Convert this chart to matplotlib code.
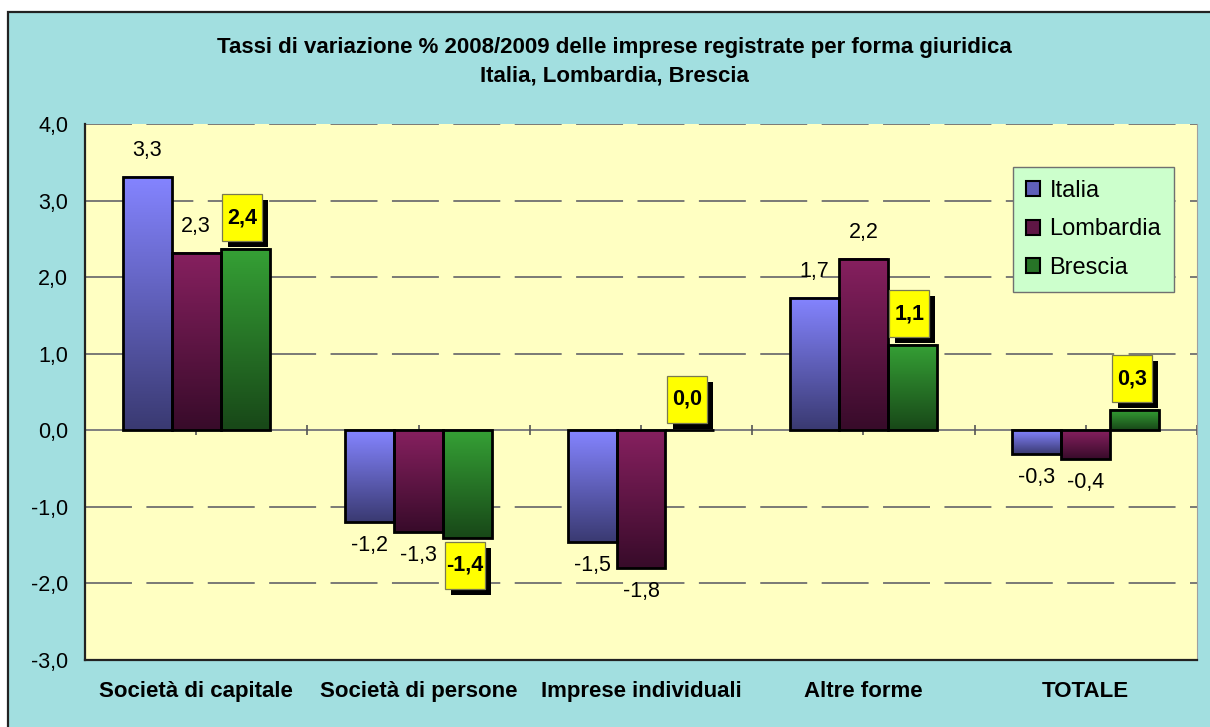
import matplotlib.pyplot as plt
import matplotlib.patches as mpatches
import numpy as np
from matplotlib.colors import to_rgb

plt.rcParams['font.family'] = ['Liberation Sans', 'DejaVu Sans']

# data
categorie = ['Società di capitale', 'Società di persone', 'Imprese individuali',
             'Altre forme', 'TOTALE']
italia = [3.31, -1.20, -1.46, 1.73, -0.31]
lombardia = [2.32, -1.33, -1.80, 2.24, -0.37]
brescia = [2.37, -1.41, 0.0, 1.12, 0.27]
serie = ['Italia', 'Lombardia', 'Brescia']
yticks = [-3, -2, -1, 0, 1, 2, 3, 4]

# gradient colours (top, bottom) for each series
colori = {
    'Italia': ('#8484ff', '#3a3a72'),
    'Lombardia': ('#86205f', '#380b2a'),
    'Brescia': ('#35a035', '#184818'),
}

fig = plt.figure(figsize=(12.1, 7.27), dpi=100, facecolor='white')

# chart area (cyan with black border)
bg = mpatches.Rectangle((7.5 / 1210, -0.05), 1.2, 1 - 11.5 / 727 + 0.05,
                        transform=fig.transFigure, facecolor='#a2dfe0',
                        edgecolor='#222222', lw=1.6, zorder=-10)
fig.patches.append(bg)

ax = fig.add_axes([85 / 1210, 67 / 727, 1112 / 1210, 536 / 727])
ax.set_facecolor('#ffffc2')

# gridlines
for y in yticks:
    if y == 0:
        ax.axhline(0, color='#7f7f7f', lw=1.4, zorder=1)
    elif y != -3:
        ax.axhline(y, color='#6f6f6f', lw=1.3, linestyle=(0, (26, 8)), zorder=0.5)

x = np.arange(len(categorie))
w = 0.22
valori = {'Italia': italia, 'Lombardia': lombardia, 'Brescia': brescia}
offs = {'Italia': -w, 'Lombardia': 0, 'Brescia': w}

for s in serie:
    bars = ax.bar(x + offs[s], valori[s], width=w, facecolor='none',
                  edgecolor='black', lw=2, zorder=3)
    top, bot = [np.array(to_rgb(c)) for c in colori[s]]
    t = np.linspace(0, 1, 64)[:, None]
    grad = (top * (1 - t) + bot * t)[:, None, :]
    for b in bars:
        x0, y0 = b.get_x(), min(b.get_y(), b.get_y() + b.get_height())
        h = abs(b.get_height())
        if h == 0:
            continue
        ax.imshow(grad, extent=[x0, x0 + b.get_width(), y0, y0 + h],
                  aspect='auto', interpolation='bilinear', zorder=2)

ax.set_xlim(-0.5, len(categorie) - 0.5)
ax.set_ylim(-3, 4)

# tick marks on the zero line
tk = np.arange(2 * len(categorie)) / 2
ax.vlines(tk, -0.065, 0.065, color='#555555', lw=1.2, zorder=1.5)


def fmt(v):
    return f'{v:.1f}'.replace('.', ',')


# labels for Italia and Lombardia
for s in ['Italia', 'Lombardia']:
    for xi, v in zip(x + offs[s], valori[s]):
        dy = 19 if v >= 0 else -17
        ax.annotate(fmt(v), (xi, v), xytext=(0, dy), textcoords='offset points',
                    ha='center', va='center', fontsize=15.5, zorder=5)

# Brescia labels in yellow boxes with shadow
pxx = ax.bbox.width / (len(categorie))
pxy = ax.bbox.height / 7
bw, bh = 40 / pxx, 47 / pxy
sx, sy = 6 / pxx, 6 / pxy
for xi, v in zip(x + offs['Brescia'], brescia):
    cy = v + (31 / pxy if v >= 0 else -27 / pxy)
    cx = xi - 3 / pxx
    ax.add_patch(mpatches.Rectangle((cx - bw / 2 + sx, cy - bh / 2 - sy), bw, bh,
                                    facecolor='black', edgecolor='none', zorder=6))
    ax.add_patch(mpatches.Rectangle((cx - bw / 2, cy - bh / 2), bw, bh,
                                    facecolor='#ffff00', edgecolor='#7a7a50',
                                    lw=0.9, zorder=7))
    ax.text(cx, cy, fmt(v), ha='center', va='center', fontsize=15.5,
            fontweight='bold', zorder=8)

ax.set_xticks(x)
ax.set_xticklabels(categorie, fontsize=16, fontweight='bold')
ax.set_yticks(yticks)
ax.set_yticklabels([fmt(v) for v in yticks], fontsize=15.5)
ax.tick_params(axis='x', length=0, pad=15)
ax.tick_params(axis='y', length=0, pad=12)

ax.spines['top'].set_visible(False)
ax.spines['right'].set_color('#a0a0a0')
ax.spines['left'].set_color('#222222')
ax.spines['bottom'].set_color('#222222')
ax.spines['left'].set_linewidth(1.6)
ax.spines['bottom'].set_linewidth(1.6)

handles = [mpatches.Patch(facecolor=tuple((np.array(to_rgb(colori[s][0])) +
                                           np.array(to_rgb(colori[s][1]))) / 2),
                          edgecolor='black', lw=1.5) for s in serie]
leg = ax.legend(handles, serie, loc='upper left', bbox_to_anchor=(0.8345, 0.92),
                fontsize=17, frameon=True, fancybox=False, framealpha=1,
                facecolor='#ccffcc', edgecolor='#707070', handlelength=0.6,
                handleheight=0.6, handletextpad=0.4, labelspacing=0.7,
                borderpad=0.55, borderaxespad=0)
leg.get_frame().set_linewidth(1.0)
leg.set_zorder(10)

fig.text(0.508, 1 - 47 / 727, 'Tassi di variazione % 2008/2009 delle imprese registrate per forma giuridica',
         ha='center', va='center', fontsize=16, fontweight='bold')
fig.text(0.508, 1 - 76 / 727, 'Italia, Lombardia, Brescia',
         ha='center', va='center', fontsize=16, fontweight='bold')

fig.savefig('out.png', dpi=100, facecolor=fig.get_facecolor())
